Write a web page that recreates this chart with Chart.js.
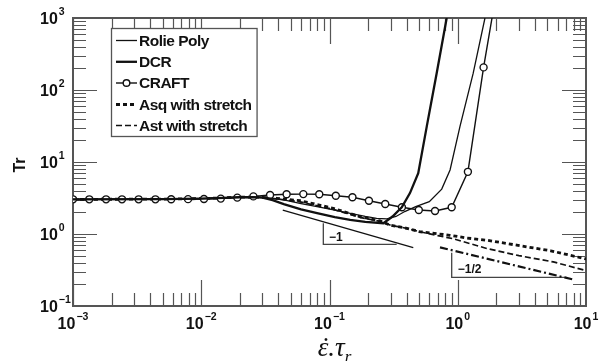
<!DOCTYPE html>
<html>
<head>
<meta charset="utf-8">
<script src="https://cdn.jsdelivr.net/npm/chart.js@4/dist/chart.umd.min.js"></script>
<style>
html, body { margin: 0; padding: 0; background: #fff; }
canvas { display: block; }
</style>
</head>
<body>
<canvas id="chart" width="611" height="361"></canvas>
<script>
// values (strain rate x relaxation time vs Tr)
const craftX = [0.001, 0.00134, 0.00181, 0.00241, 0.00325, 0.00439, 0.00583, 0.00789, 0.0105, 0.0142, 0.0191, 0.0255, 0.0344, 0.0463, 0.0625, 0.0832, 0.112, 0.151, 0.203, 0.272, 0.367, 0.497, 0.665, 0.897, 1.2, 1.59, 1.85]
const craftY = [3.03, 3.03, 3.03, 3.03, 3.03, 3.03, 3.04, 3.05, 3.06, 3.1, 3.2, 3.33, 3.48, 3.56, 3.58, 3.56, 3.4, 3.24, 2.9, 2.61, 2.35, 2.15, 2.09, 2.35, 7.3, 206, 1000]

const rolieX = [0.001, 0.005, 0.01, 0.015, 0.02, 0.026, 0.032, 0.044, 0.06, 0.08, 0.11, 0.145, 0.19, 0.233, 0.28, 0.33, 0.386, 0.47, 0.6, 0.75, 0.871, 1.04, 1.32, 1.63]
const rolieY = [3.03, 3.05, 3.1, 3.18, 3.25, 3.28, 3.2, 2.97, 2.65, 2.4, 2.15, 1.94, 1.76, 1.65, 1.62, 1.75, 2.05, 2.4, 2.81, 4.2, 7.74, 31, 171, 1000]

const dcrX = [0.001, 0.005, 0.01, 0.015, 0.02, 0.025, 0.03, 0.036, 0.044, 0.06, 0.08, 0.11, 0.145, 0.19, 0.263, 0.31, 0.366, 0.424, 0.492, 0.573, 0.685, 0.82]
const dcrY = [3.03, 3.05, 3.1, 3.18, 3.24, 3.26, 3.2, 2.95, 2.6, 2.2, 1.95, 1.72, 1.57, 1.47, 1.41, 1.75, 2.35, 3.7, 7.0, 31, 171, 1000]

const asqX = [0.001, 0.005, 0.01, 0.015, 0.02, 0.028, 0.0388, 0.0589, 0.085, 0.107, 0.173, 0.248, 0.3, 0.4, 0.5, 0.87, 1.17, 1.68, 2.88, 5.3, 10]
const asqY = [3.03, 3.05, 3.1, 3.18, 3.25, 3.25, 3.13, 2.9, 2.5, 2.27, 1.74, 1.52, 1.32, 1.2, 1.08, 0.96, 0.88, 0.82, 0.7, 0.585, 0.45]

const astX = [0.001, 0.005, 0.01, 0.015, 0.02, 0.028, 0.0388, 0.0589, 0.085, 0.107, 0.173, 0.248, 0.3, 0.4, 0.5, 0.7, 0.92, 1.68, 3, 5.56, 10]
const astY = [3.03, 3.05, 3.1, 3.18, 3.25, 3.22, 3.08, 2.8, 2.4, 2.2, 1.7, 1.5, 1.32, 1.2, 1.08, 0.95, 0.86, 0.63, 0.5, 0.41, 0.31]

// slope guides and their triangles
const guide1X = [0.0432, 0.45]
const guide1Y = [2.15, 0.646]
const tri1X = [0.0895, 0.0895, 0.334]
const tri1Y = [1.408, 0.719, 0.719]
const guide2X = [0.727, 8.2]
const guide2Y = [0.653, 0.23]
const tri2X = [0.897, 0.897, 7.06]
const tri2Y = [0.55, 0.25, 0.25]
const slopeLabels = ['\u22121', '\u22121/2']
const slopeLabelX = [0.099, 1.0]
const slopeLabelY = [0.88, 0.316]

const legendLabels = ['Rolie Poly', 'DCR', 'CRAFT', 'Asq with stretch', 'Ast with stretch']
const xTickExp = [-3, -2, -1, 0, 1]
const yTickExp = [-1, 0, 1, 2, 3]

const ink = '#111'
const axisGray = '#555'

function pairs(xs, ys) {
  return xs.map((x, i) => ({ x: x, y: ys[i] }))
}

const craftRadius = craftX.map((x, i) => i === craftX.length - 1 ? 0 : 3.5)

const datasets = [
  { label: legendLabels[0], data: pairs(rolieX, rolieY), borderColor: ink, borderWidth: 1.3, pointRadius: 0 },
  { label: legendLabels[1], data: pairs(dcrX, dcrY), borderColor: ink, borderWidth: 2.3, pointRadius: 0 },
  { label: legendLabels[2], data: pairs(craftX, craftY), borderColor: ink, borderWidth: 1.4, pointRadius: craftRadius,
    pointBorderColor: ink, pointBackgroundColor: '#fff', pointBorderWidth: 1.4 },
  { label: legendLabels[3], data: pairs(asqX, asqY), borderColor: ink, borderWidth: 2.8, borderDash: [4, 3], pointRadius: 0 },
  { label: legendLabels[4], data: pairs(astX, astY), borderColor: ink, borderWidth: 1.7, borderDash: [6, 3], pointRadius: 0 },
  { label: 'guide1', data: pairs(guide1X, guide1Y), borderColor: ink, borderWidth: 1.3, pointRadius: 0 },
  { label: 'tri1', data: pairs(tri1X, tri1Y), borderColor: '#444', borderWidth: 1.3, pointRadius: 0 },
  { label: 'guide2', data: pairs(guide2X, guide2Y), borderColor: ink, borderWidth: 2.2, borderDash: [8, 3, 2, 3], pointRadius: 0 },
  { label: 'tri2', data: pairs(tri2X, tri2Y), borderColor: '#444', borderWidth: 1.3, pointRadius: 0 }
]

const sansBold = '"Liberation Sans", Arial, sans-serif'

function drawPow(ctx, exp, x, y, align) {
  // "10" with a superscript exponent; y is the baseline of "10"
  const base = '10'
  const sup = exp < 0 ? '\u2212' + Math.abs(exp) : String(exp)
  ctx.font = 'bold 16px ' + sansBold
  const wb = ctx.measureText(base).width
  ctx.font = 'bold 10.5px ' + sansBold
  const ws = ctx.measureText(sup).width
  let left = x
  if (align === 'center') left = x - (wb + 1 + ws) / 2
  ctx.textAlign = 'left'
  ctx.textBaseline = 'alphabetic'
  ctx.font = 'bold 16px ' + sansBold
  ctx.fillText(base, left, y)
  ctx.font = 'bold 10.5px ' + sansBold
  ctx.fillText(sup, left + wb + 1, y - 9)
}

const decorations = {
  id: 'decorations',
  beforeDatasetsDraw(chart) {
    const ctx = chart.ctx
    const a = chart.chartArea
    const xs = chart.scales.x
    const ys = chart.scales.y
    ctx.save()
    ctx.strokeStyle = axisGray
    ctx.lineWidth = 1.2
    ctx.beginPath()
    for (let k = -3; k <= 0; k++) {
      for (let m = 1; m <= 9; m++) {
        const px = Math.round(xs.getPixelForValue(m * Math.pow(10, k))) + 0.5
        const len = m === 1 ? 26 : 13
        ctx.moveTo(px, a.bottom); ctx.lineTo(px, a.bottom - len)
        ctx.moveTo(px, a.top); ctx.lineTo(px, a.top + len)
      }
    }
    for (let k = -1; k <= 2; k++) {
      for (let m = 1; m <= 9; m++) {
        const py = Math.round(ys.getPixelForValue(m * Math.pow(10, k))) + 0.5
        const len = m === 1 ? 24 : 13
        ctx.moveTo(a.left, py); ctx.lineTo(a.left + len, py)
        ctx.moveTo(a.right, py); ctx.lineTo(a.right - len, py)
      }
    }
    ctx.stroke()
    ctx.lineWidth = 2
    ctx.strokeRect(a.left, a.top, a.right - a.left, a.bottom - a.top)
    ctx.restore()
  },
  afterDraw(chart) {
    const ctx = chart.ctx
    const a = chart.chartArea
    const xs = chart.scales.x
    const ys = chart.scales.y
    ctx.save()
    ctx.fillStyle = ink

    // tick labels
    xTickExp.forEach(e => drawPow(ctx, e, xs.getPixelForValue(Math.pow(10, e)), a.bottom + 23, 'center'))
    yTickExp.forEach(e => drawPow(ctx, e, 40, ys.getPixelForValue(Math.pow(10, e)) + 6, 'left'))

    // slope labels
    ctx.font = 'bold 12px ' + sansBold
    ctx.textAlign = 'left'
    ctx.textBaseline = 'middle'
    slopeLabels.forEach((t, i) => {
      ctx.fillText(t, xs.getPixelForValue(slopeLabelX[i]), ys.getPixelForValue(slopeLabelY[i]))
    })

    // axis titles
    ctx.save()
    ctx.translate(21, 165)
    ctx.rotate(-Math.PI / 2)
    ctx.font = 'bold 16px ' + sansBold
    ctx.textAlign = 'center'
    ctx.textBaseline = 'middle'
    ctx.fillText('Tr', 0, 0)
    ctx.restore()

    const serifBig = 'italic 27px "Liberation Serif", "DejaVu Serif", serif'
    const serifSmall = 'italic 17px "Liberation Serif", "DejaVu Serif", serif'
    ctx.textAlign = 'left'
    ctx.textBaseline = 'alphabetic'
    ctx.font = serifBig
    const we = ctx.measureText('\u03B5').width
    const wm = ctx.measureText('\u03B5.\u03C4').width
    ctx.font = serifSmall
    const wr = ctx.measureText('r').width
    const tx = (a.left + a.right) / 2 + 5 - (wm + wr) / 2
    ctx.font = serifBig
    ctx.fillText('\u03B5.\u03C4', tx, 356)
    ctx.textAlign = 'center'
    ctx.fillText('\u02D9', tx + we * 0.62, 356)
    ctx.textAlign = 'left'
    ctx.font = serifSmall
    ctx.fillText('r', tx + wm, 362)

    // legend box in the upper left of the plot
    const lx = 111, ly = 28, lh = 108
    const rowY = [40.5, 61.8, 83, 104.5, 125.5]
    ctx.font = 'bold 15.5px ' + sansBold
    ctx.letterSpacing = '-0.5px'
    let tw = 0
    legendLabels.forEach(t => { tw = Math.max(tw, ctx.measureText(t).width) })
    const lw = 139 - lx + tw + 5
    ctx.fillStyle = '#fff'
    ctx.fillRect(lx, ly, lw, lh)
    ctx.strokeStyle = axisGray
    ctx.lineWidth = 1.3
    ctx.strokeRect(lx + 0.5, ly + 0.5, lw, lh)
    legendLabels.forEach((t, i) => {
      const ds = chart.data.datasets[i]
      const y = rowY[i]
      ctx.strokeStyle = ds.borderColor
      ctx.lineWidth = ds.borderWidth
      ctx.setLineDash(ds.borderDash || [])
      ctx.beginPath()
      ctx.moveTo(116, y); ctx.lineTo(137, y)
      ctx.stroke()
      ctx.setLineDash([])
      if (i === 2) {
        ctx.beginPath()
        ctx.arc(126.5, y, 3.3, 0, Math.PI * 2)
        ctx.fillStyle = '#fff'
        ctx.fill()
        ctx.lineWidth = 1.4
        ctx.stroke()
      }
      ctx.fillStyle = ink
      ctx.textAlign = 'left'
      ctx.textBaseline = 'middle'
      ctx.fillText(t, 139, y + 1)
    })
    ctx.letterSpacing = '0px'
    ctx.restore()
  }
}

new Chart(document.getElementById('chart'), {
  type: 'scatter',
  data: { datasets: datasets },
  options: {
    responsive: false,
    animation: false,
    devicePixelRatio: 1,
    layout: { padding: { left: 73, right: 25, top: 18, bottom: 55 } },
    elements: { line: { tension: 0, fill: false } },
    datasets: { scatter: { showLine: true } },
    plugins: { legend: { display: false }, tooltip: { enabled: false } },
    scales: {
      x: {
        type: 'logarithmic', min: 0.001, max: 10,
        ticks: { display: false }, grid: { display: false }, border: { display: false },
        afterFit: s => { s.height = 0 }
      },
      y: {
        type: 'logarithmic', min: 0.1, max: 1000,
        ticks: { display: false }, grid: { display: false }, border: { display: false },
        afterFit: s => { s.width = 0 }
      }
    }
  },
  plugins: [decorations]
})
</script>
</body>
</html>
